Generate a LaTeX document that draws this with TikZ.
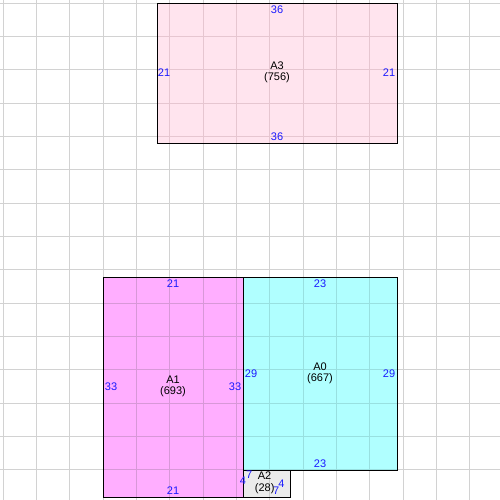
\documentclass[tikz,border=0pt]{standalone}
\usepackage{fontspec}
\setmainfont{Liberation Sans}
\definecolor{fillA}{HTML}{FFE4EE}
\definecolor{fillB}{HTML}{FFAEFF}
\definecolor{fillC}{HTML}{B0FFFF}
\definecolor{fillD}{HTML}{EBEBEB}
\definecolor{gridO}{HTML}{D2D2D2}
\definecolor{gridA}{HTML}{E6C6D0}
\definecolor{gridB}{HTML}{D898D8}
\definecolor{gridC}{HTML}{98E0E0}
\definecolor{gridD}{HTML}{CCCCCC}
\definecolor{dimblue}{HTML}{1A1AFF}
\begin{document}
\begin{tikzpicture}[x=1pt,y=-1pt,
  gridline/.style={line width=1pt},
  piece/.style={draw=black,line width=1pt},
  dimlab/.style={inner sep=0pt,text=dimblue,font=\fontsize{11}{12}\selectfont},
  namelab/.style={inner sep=0pt,text=black,font=\fontsize{11}{12}\selectfont}]
\newcommand\gridlines[1]{%
  \foreach \i in {0,...,14}{
    \draw[gridline,draw=#1] ({3.33+33.333*\i},0) -- ({3.33+33.333*\i},500);
    \draw[gridline,draw=#1] (0,{3.33+33.333*\i}) -- (500,{3.33+33.333*\i});
  }}
\useasboundingbox (0,0) rectangle (500,500);
\fill[white] (0,0) rectangle (500,500);
\gridlines{gridO}
% fills with their tinted grid
\begin{scope}
  \clip (157.3,3.3) rectangle (397.3,143.3);
  \fill[fillA] (157.3,3.3) rectangle (397.3,143.3);
  \gridlines{gridA}
\end{scope}
\begin{scope}
  \clip (103.3,277.3) rectangle (243.3,497.3);
  \fill[fillB] (103.3,277.3) rectangle (243.3,497.3);
  \gridlines{gridB}
\end{scope}
\begin{scope}
  \clip (243.3,277.3) rectangle (397.3,470.3);
  \fill[fillC] (243.3,277.3) rectangle (397.3,470.3);
  \gridlines{gridC}
\end{scope}
\begin{scope}
  \clip (243.3,470.3) rectangle (290.7,497.3);
  \fill[fillD] (243.3,470.3) rectangle (290.7,497.3);
  \gridlines{gridD}
\end{scope}
% borders
\draw[piece] (157.3,3.3) rectangle (397.3,143.3);
\draw[piece] (103.3,277.3) rectangle (243.3,497.3);
\draw[piece] (243.3,277.3) rectangle (397.3,470.3);
\draw[piece] (243.3,470.3) rectangle (290.7,497.3);
% A3
\node[dimlab] (a3t) at (277,10) {36};
\node[dimlab] (a3b) at (277,137) {36};
\node[dimlab] (a3l) at (164,73) {21};
\node[dimlab] (a3r) at (389,73) {21};
\node[namelab] (a3n) at (277,65.5) {A3};
\node[namelab] (a3a) at (277,78) {(756)};
% A1
\node[dimlab] (a1t) at (173,284) {21};
\node[dimlab] (a1b) at (173,491) {21};
\node[dimlab] (a1l) at (111,387) {33};
\node[dimlab] (a1r) at (235,387) {33};
\node[namelab] (a1n) at (173,380) {A1};
\node[namelab] (a1a) at (173,392) {(693)};
% A0
\node[dimlab] (a0t) at (320,284) {23};
\node[dimlab] (a0b) at (320,464) {23};
\node[dimlab] (a0l) at (251,374) {29};
\node[dimlab] (a0r) at (389,374) {29};
\node[namelab] (a0n) at (320,367) {A0};
\node[namelab] (a0a) at (320,379) {(667)};
% A2
\node[dimlab] (a2t) at (249.3,475) {7};
\node[dimlab] (a2l) at (243,481) {4};
\node[dimlab] (a2b) at (276.3,490.5) {7};
\node[dimlab] (a2r) at (281.5,484) {4};
\node[namelab] (a2n) at (264.5,476) {A2};
\node[namelab] (a2a) at (264.7,488.7) {(28)};
\end{tikzpicture}
\end{document}
